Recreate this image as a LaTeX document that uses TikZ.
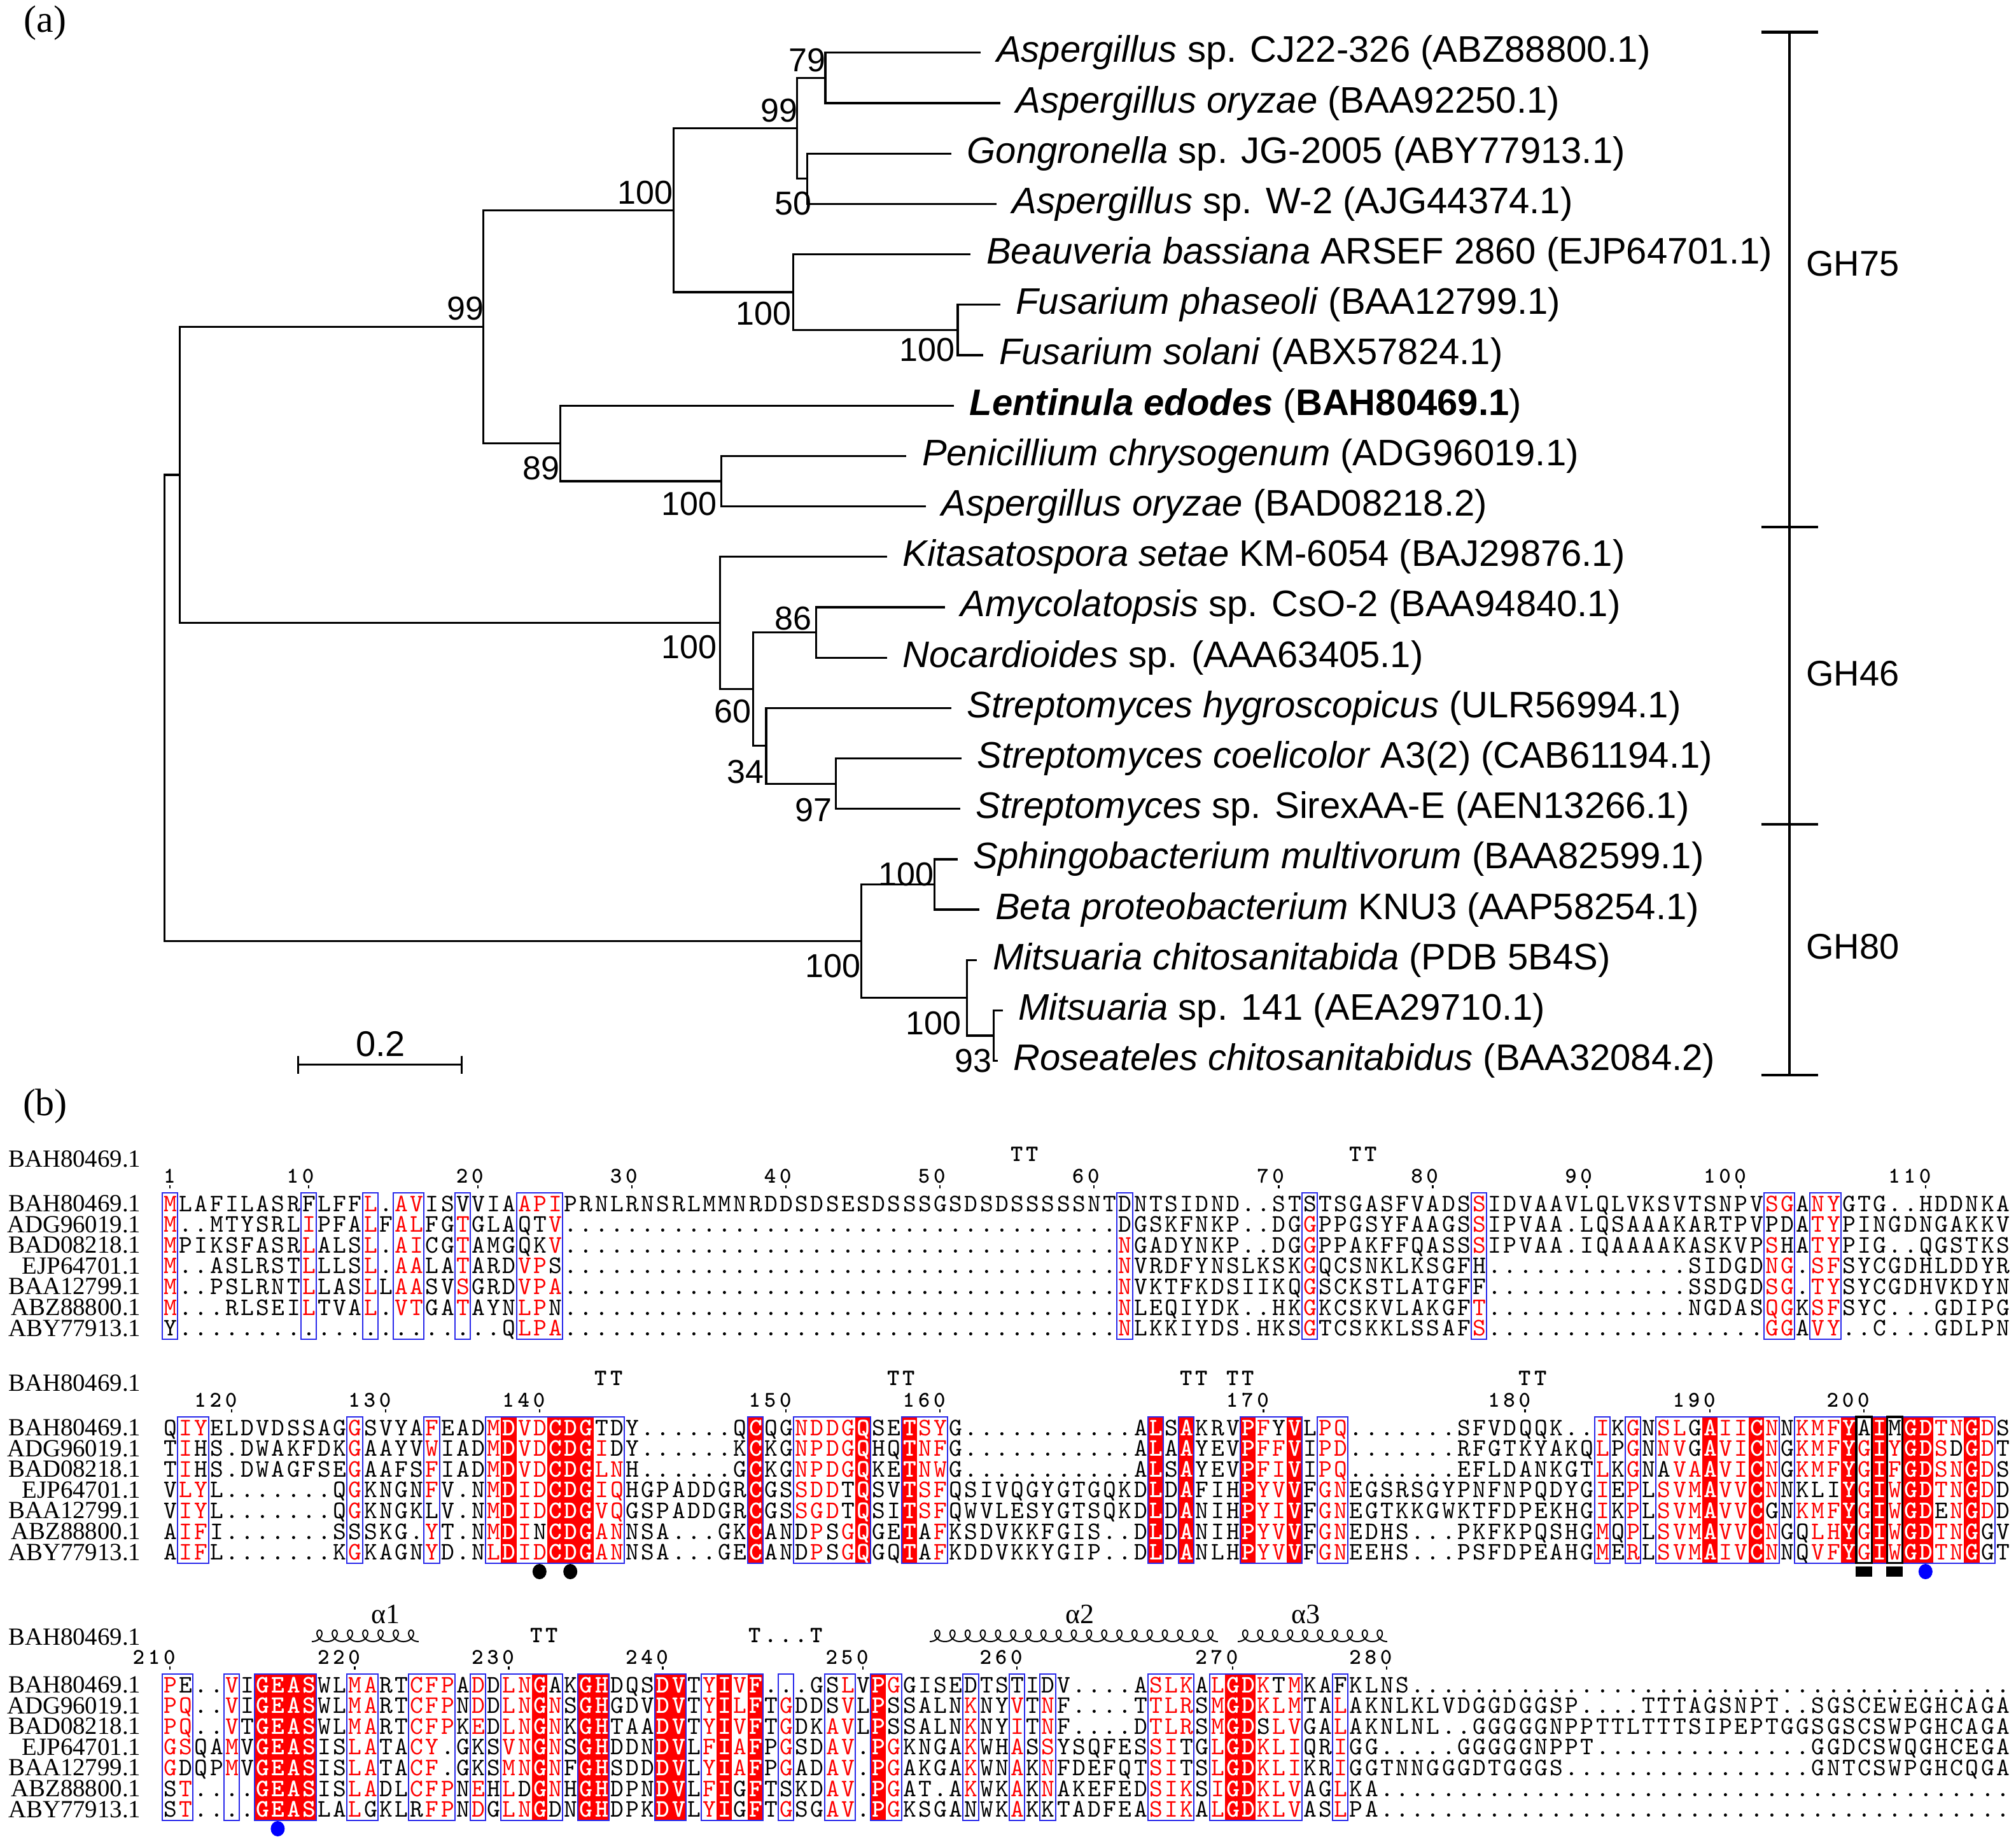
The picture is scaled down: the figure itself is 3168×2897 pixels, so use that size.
\documentclass[tikz,border=0pt]{standalone}
\usepackage{fontspec}
\setmainfont{Liberation Sans}
\newfontfamily\serifnames{Liberation Serif}
\definecolor{espred}{RGB}{255,0,0}
\definecolor{espblue}{RGB}{40,40,235}
\newlength\cellw
\setlength\cellw{6.05pt}
\newcount\colnum
\def\blk{0}
\def\seqrow#1{\colnum=0 \seqloop#1\relax}
\def\seqloop#1{\ifx#1\relax\else\advance\colnum by 1 \seqcell{#1}\expandafter\seqloop\fi}
\def\seqcell#1{\makebox[\cellw][c]{\ifcsname fl@\blk @\the\colnum\endcsname\textcolor{white}{\bfseries #1}\else\ifnum`#1>96 \textcolor{espred}{\uppercase{#1}}\else #1\fi\fi}}
\def\plaincells#1{\plainloop#1\relax}
\def\plainloop#1{\ifx#1\relax\else\makebox[\cellw][c]{#1}\expandafter\plainloop\fi}
\def\fillsB{23,26,27,28,39,46,49,65,67,71,74,101,104,110,112,114,115,118}
\def\fillsC{7,8,9,10,25,28,29,33,34,37,39,47,70,71}
\newcommand\alrow[5]{%
  \node[nm] (nm#1r#2) at (222,{#3+12.5}) {#4};
  \node[sq] (sq#1r#2) at (255,{#3+12}) {\seqrow{#5}};}
\newcommand\colfills[2]{\foreach \fc in #2 {\fill[espred] ({255+(\fc-1)*24.2},{#1-17}) rectangle ({255+\fc*24.2},{#1+212.6});}}
\newcommand\colframes[3]{\foreach \fa/\fb in {#3} {\draw[#1] ({255+(\fa-1)*24.2},{#2-17}) rectangle ({255+\fb*24.2},{#2+212.6});}}
\newcommand\resnums[2]{\foreach \nn/\cc in {#2} {%
  \node[numl] (rn\nn) at ({255+\cc*24.2},{#1-33}) {\expandafter\plaincells\expandafter{\nn}};
  \fill ({267+(\cc-1)*24.2-1.3},{#1-29}) rectangle ++(2.6,5);}}
% helix: x0, end of domain (pi+2*pi*n), loop spacing s, y
\newcommand\helixplot[4]{\draw[line width=0.5pt] plot[domain=3.1416:#2,samples=500,smooth] ({#1+(#3/6.2832)*(\x-3.1416)-9*sin(\x r)},{#4-9*cos(\x r)});}
\begin{document}
\begin{tikzpicture}[x=0.25pt,y=-0.25pt,
  br/.style={line width=0.8pt},
  brk/.style={line width=1.1pt},
  leaf/.style={anchor=west,inner sep=0pt,xshift=6pt,font=\fontsize{14.5}{17}\selectfont},
  bs/.style={inner sep=0pt,font=\fontsize{13}{15}\selectfont},
  gh/.style={inner sep=0pt,font=\fontsize{14}{17}\selectfont},
  panel/.style={inner sep=0pt,font=\serifnames\fontsize{15}{18}\selectfont},
  nm/.style={anchor=base east,inner sep=0pt,font=\serifnames\fontsize{9.7}{11}\selectfont},
  sq/.style={anchor=base west,inner sep=0pt,font=\ttfamily\fontsize{9.9}{11}\selectfont},
  numl/.style={anchor=base east,inner sep=0pt,font=\ttfamily\bfseries\fontsize{8.8}{10}\selectfont},
  ssl/.style={anchor=base,inner sep=0pt,font=\ttfamily\bfseries\fontsize{9.2}{10}\selectfont},
  frm/.style={draw=espblue,line width=0.5pt},
  bfrm/.style={draw=black,line width=0.8pt},
  alab/.style={inner sep=0pt,font=\serifnames\fontsize{11}{13}\selectfont}]
\useasboundingbox (0,0) rectangle (3168,2897);
\fill[white] (0,0) rectangle (3168,2897);
\node[panel] (pa) at (71,36) {(a)};
\node[panel] (pb) at (71,1738) {(b)};
% ---------------- tree (display coordinates) ----------------
\begin{scope}[x=0.50505pt,y=-0.50505pt]
\coordinate (t1) at (763,41);
\coordinate (t2) at (778,80.2);
\coordinate (t3) at (740,119.4);
\coordinate (t4) at (775,158.6);
\coordinate (t5) at (755,197.8);
\coordinate (t6) at (778,237);
\coordinate (t7) at (765,276.2);
\coordinate (t8) at (742,315.4);
\coordinate (t9) at (705,354.6);
\coordinate (t10) at (720,393.8);
\coordinate (t11) at (690,433);
\coordinate (t12) at (735,472.2);
\coordinate (t13) at (690,511.4);
\coordinate (t14) at (740,550.6);
\coordinate (t15) at (748,589.8);
\coordinate (t16) at (747,629);
\coordinate (t17) at (745,668.2);
\coordinate (t18) at (762,707.4);
\coordinate (t19) at (760,746.6);
\coordinate (t20) at (780,785.8);
\coordinate (t21) at (776,825);
\coordinate (nG) at (642,60.6);
\coordinate (nH) at (628,139);
\coordinate (nE) at (620,99.8);
\coordinate (nI) at (745,256.6);
\coordinate (nF) at (617,227.2);
\coordinate (nC) at (524,163.5);
\coordinate (nJ) at (561,374.2);
\coordinate (nD) at (436,344.8);
\coordinate (nB) at (376,254.2);
\coordinate (nM) at (635,491.8);
\coordinate (nN) at (650,609.4);
\coordinate (nO) at (596,580);
\coordinate (nP) at (586,535.9);
\coordinate (nK) at (560,484.5);
\coordinate (nA) at (140,369.3);
\coordinate (nR) at (727,687.8);
\coordinate (nT) at (773,805.4);
\coordinate (nS) at (752,776);
\coordinate (nQ) at (670,731.9);
\coordinate (nRoot) at (128,550.6);
\draw[br] (nG) |- (t1); \draw[br] (nG) |- (t2);
\draw[br] (nH) |- (t3); \draw[br] (nH) |- (t4);
\draw[br] (nE) |- (nG); \draw[br] (nE) |- (nH);
\draw[br] (nI) |- (t6); \draw[br] (nI) |- (t7);
\draw[br] (nF) |- (t5); \draw[br] (nF) |- (nI);
\draw[br] (nC) |- (nE); \draw[br] (nC) |- (nF);
\draw[br] (nJ) |- (t9); \draw[br] (nJ) |- (t10);
\draw[br] (nD) |- (t8); \draw[br] (nD) |- (nJ);
\draw[br] (nB) |- (nC); \draw[br] (nB) |- (nD);
\draw[br] (nM) |- (t12); \draw[br] (nM) |- (t13);
\draw[br] (nN) |- (t15); \draw[br] (nN) |- (t16);
\draw[br] (nO) |- (t14); \draw[br] (nO) |- (nN);
\draw[br] (nP) |- (nM); \draw[br] (nP) |- (nO);
\draw[br] (nK) |- (t11); \draw[br] (nK) |- (nP);
\draw[br] (nA) |- (nB); \draw[br] (nA) |- (nK);
\draw[br] (nR) |- (t17); \draw[br] (nR) |- (t18);
\draw[br] (nT) |- (t20); \draw[br] (nT) |- (t21);
\draw[br] (nS) |- (t19); \draw[br] (nS) |- (nT);
\draw[br] (nQ) |- (nR); \draw[br] (nQ) |- (nS);
\draw[br] (nRoot) |- (nA); \draw[br] (nRoot) |- (nQ);
\node[leaf] (l1) at (t1) {\textit{Aspergillus} sp. CJ22-326 (ABZ88800.1)};
\node[leaf] (l2) at (t2) {\textit{Aspergillus oryzae} (BAA92250.1)};
\node[leaf] (l3) at (t3) {\textit{Gongronella} sp. JG-2005 (ABY77913.1)};
\node[leaf] (l4) at (t4) {\textit{Aspergillus} sp. W-2 (AJG44374.1)};
\node[leaf] (l5) at (t5) {\textit{Beauveria bassiana} ARSEF 2860 (EJP64701.1)};
\node[leaf] (l6) at (t6) {\textit{Fusarium phaseoli} (BAA12799.1)};
\node[leaf] (l7) at (t7) {\textit{Fusarium solani} (ABX57824.1)};
\node[leaf] (l8) at (t8) {\textbf{\textit{Lentinula edodes}} (\textbf{BAH80469.1})};
\node[leaf] (l9) at (t9) {\textit{Penicillium chrysogenum} (ADG96019.1)};
\node[leaf] (l10) at (t10) {\textit{Aspergillus oryzae} (BAD08218.2)};
\node[leaf] (l11) at (t11) {\textit{Kitasatospora setae} KM-6054 (BAJ29876.1)};
\node[leaf] (l12) at (t12) {\textit{Amycolatopsis} sp. CsO-2 (BAA94840.1)};
\node[leaf] (l13) at (t13) {\textit{Nocardioides} sp. (AAA63405.1)};
\node[leaf] (l14) at (t14) {\textit{Streptomyces hygroscopicus} (ULR56994.1)};
\node[leaf] (l15) at (t15) {\textit{Streptomyces coelicolor} A3(2) (CAB61194.1)};
\node[leaf] (l16) at (t16) {\textit{Streptomyces} sp. SirexAA-E (AEN13266.1)};
\node[leaf] (l17) at (t17) {\textit{Sphingobacterium multivorum} (BAA82599.1)};
\node[leaf] (l18) at (t18) {\textit{Beta proteobacterium} KNU3 (AAP58254.1)};
\node[leaf] (l19) at (t19) {\textit{Mitsuaria chitosanitabida} (PDB 5B4S)};
\node[leaf] (l20) at (t20) {\textit{Mitsuaria} sp. 141 (AEA29710.1)};
\node[leaf] (l21) at (t21) {\textit{Roseateles chitosanitabidus} (BAA32084.2)};
\node[bs] (bG) at (628,47) {79};
\node[bs] (bE) at (606,86) {99};
\node[bs] (bC) at (502,150) {100};
\node[bs] (bH) at (617,158) {50};
\node[bs] (bF) at (594,244) {100};
\node[bs] (bI) at (721,272) {100};
\node[bs] (bB) at (362,240) {99};
\node[bs] (bD) at (421,364) {89};
\node[bs] (bJ) at (536,392) {100};
\node[bs] (bK) at (536,503) {100};
\node[bs] (bM) at (617,481) {86};
\node[bs] (bP) at (570,553) {60};
\node[bs] (bO) at (580,600) {34};
\node[bs] (bN) at (633,630) {97};
\node[bs] (bR) at (705,680) {100};
\node[bs] (bQ) at (648,751) {100};
\node[bs] (bS) at (726,796) {100};
\node[bs] (bT) at (757,825) {93};
\coordinate (sbL) at (232,828);
\coordinate (sbR) at (359,828);
\draw[br] (sbL) -- (sbR);
\draw[br] (232,821) -- (232,835);
\draw[br] (359,821) -- (359,835);
\node[gh] (sbl) at (296,812) {0.2};
\coordinate (bt) at (1392,25);
\coordinate (bb) at (1392,836);
\draw[brk] (bt) -- (bb);
\draw[brk] (1370,25) -- (1414,25);
\draw[brk] (1370,410) -- (1414,410);
\draw[brk] (1370,641) -- (1414,641);
\draw[brk] (1370,836) -- (1414,836);
\node[gh] (gh75) at (1441,205) {GH75};
\node[gh] (gh46) at (1441,524) {GH46};
\node[gh] (gh80) at (1441,736) {GH80};
\end{scope}
% ---------------- alignment ----------------
\foreach \fc in \fillsB {\expandafter\xdef\csname fl@2@\fc\endcsname{}}
\foreach \fc in \fillsC {\expandafter\xdef\csname fl@3@\fc\endcsname{}}
% block 1
\def\blk{1}
\colframes{frm}{1891}{1/1,10/10,14/14,16/17,20/20,24/26,63/63,75/75,86/86,105/106,108/109}
\node[nm] (h1) at (222,1833.5) {BAH80469.1};
\resnums{1891}{1/1,10/10,20/21,30/31,40/41,50/51,60/61,70/73,80/83,90/93,100/103,110/115}
\node[ssl] (tt1a) at ({267+55.5*24.2},1824) {\plaincells{TT}};
\node[ssl] (tt1b) at ({267+77.5*24.2},1824) {\plaincells{TT}};
\alrow{1}{1}{1891}{BAH80469.1}{mLAFILASRF LFFl.avISV VIAapiPRNL RNSRLMMNRD DSDSESDSSS GSDSDSSSSS NTDNTSIDND ..STSTSGAS FVADSsIDVA AVLQLVKSVT SNPVsgAnyG TG..HDDNKA}
\alrow{1}{2}{1923.6}{ADG96019.1}{m..MTYSRLi PFAlFalFGt GLAQTv.... .......... .......... .......... ..DGSKFNKP ..DGgPPGSY FAAGSsIPVA A.LQSAAAKA RTPVPDAtyP INGDNGAKKV}
\alrow{1}{3}{1956.2}{BAD08218.1}{mPIKSFASRl ALSl.aiCGt AMGQKv.... .......... .......... .......... ..nGADYNKP ..DGgPPAKF FQASSsIPVA A.IQAAAAKA SKVPsHAtyP IG..QGSTKS}
\alrow{1}{4}{1988.8}{EJP64701.1}{m..ASLRSTl LLSl.aaLAt ARDvpS.... .......... .......... .......... ..nVRDFYNS LKSKgQCSNK LKSGFH.... .........S IDGDng.sfS YCGDHLDDYR}
\alrow{1}{5}{2021.4}{BAA12799.1}{m..PSLRNTl LASlLaaSVs GRDvpa.... .......... .......... .......... ..nVKTFKDS IIKQgSCKST LATGFF.... .........S SDGDsg.tyS YCGDHVKDYN}
\alrow{1}{6}{2054}{ABZ88800.1}{m...RLSEIl TVAl.vtGAt AYNlpN.... .......... .......... .......... ..nLEQIYDK ..HKgKCSKV LAKGFt.... .........N GDASqgKsfS YC...GDIPG}
\alrow{1}{7}{2086.6}{ABY77913.1}{Y......... .......... ..Qlpa.... .......... .......... .......... ..nLKKIYDS .HKSgTCSKK LSSAFs.... .......... ....ggAvy. .C...GDLPN}
% block 2
\def\blk{2}
\colfills{2243}{\fillsB}
\colframes{frm}{2243}{2/3,13/13,18/18,22/30,39/39,42/46,49/51,65/65,67/67,71/74,76/77,94/94,96/96,98/105,107/119}
\colframes{bfrm}{2243}{111/111,113/113}
\node[nm] (h2) at (222,2185.5) {BAH80469.1};
\resnums{2243}{120/5,130/15,140/25,150/41,160/51,170/72,180/89,190/101,200/111}
\node[ssl] (tt2a) at ({267+28.5*24.2},2176) {\plaincells{TT}};
\node[ssl] (tt2b) at ({267+47.5*24.2},2176) {\plaincells{TT}};
\node[ssl] (tt2c) at ({267+66.5*24.2},2176) {\plaincells{TT}};
\node[ssl] (tt2d) at ({267+69.5*24.2},2176) {\plaincells{TT}};
\node[ssl] (tt2e) at ({267+88.5*24.2},2176) {\plaincells{TT}};
\alrow{2}{1}{2243}{BAH80469.1}{QiyELDVDSS AGgSVYAfEA DmDvdCDGTD Y......QCQ GnddgQSETs yG........ ...ALSAKRV PfYVLpq... ....SFVDQQ K..iKgNslG AiiCnNkmfY AIMGDtnGdS}
\alrow{2}{2}{2275.6}{ADG96019.1}{TiHS.DWAKF DKgAAYVwIA DmDvdCDGiD Y......KCK GnpdgQHQTn fG........ ...ALAAYEV PffVIpd... ....RFGTKY AKQlPgNnvG AviCnGkmfY gIyGDsDGdT}
\alrow{2}{3}{2308.2}{BAD08218.1}{TiHS.DWAGF SEgAAFSfIA DmDvdCDGln H......GCK GnpdgQKETn wG........ ...ALSAYEV PfiVIpq... ....EFLDAN KGTlKgNAva AviCnGkmfY gIfGDsnGdS}
\alrow{2}{4}{2340.8}{EJP64701.1}{VlyL...... .QgKNGNfV. NmDidCDGiq HGPADDGRCG SsddTQSVTs fQSIVQGYGT GQKDLDAFIH PyvVFgnEGS RSGYPNFNPQ DYGiEpLsvm AvvCnNKLIY gIwGDtnGdD}
\alrow{2}{5}{2373.4}{BAA12799.1}{ViyL...... .QgKNGKLV. NmDidCDGvq GSPADDGRCG SsgdTQSITs fQWVLESYGT SQKDLDANIH PyiVFgnEGT KKGWKTFDPE KHGiKpLsvm AvvCGNkmfY gIwGDEnGdD}
\alrow{2}{6}{2406}{ABZ88800.1}{AifI...... .SSSKG.yT. NmDiNCDGan NSA...GKCA NDpSgQGETA fKSDVKKFGI S..DLDANIH PyvVFgnEDH S...PKFKPQ SHGmQpLsvm AvvCnGQlhY gIwGDtnGGV}
\alrow{2}{7}{2438.6}{ABY77913.1}{AifL...... .KgKAGNyD. NlDidCDGan NSA...GECA NDpSgQGQTA fKDDVKKYGI P..DLDANLH PyvVFgnEEH S...PSFDPE AHGmErLsvm AivCnNQvfY gIwGDtnGGT}
\fill (847.8,2469) ellipse (11 and 12);
\fill (896.2,2469) ellipse (11 and 12);
\fill (2916,2461) rectangle (2942,2477);
\fill (2964.4,2461) rectangle (2990.4,2477);
\fill[blue] (3025.8,2469) ellipse (11 and 12);
% block 3
\def\blk{3}
\colfills{2647}{\fillsC}
\colframes{frm}{2647}{1/2,5/5,7/10,13/14,17/19,21/21,23/26,28/29,33/34,36/39,41/41,44/45,47/48,53/53,56/56,58/58,65/67,69/74,77/77}
\node[nm] (h3) at (222,2584.5) {BAH80469.1};
\resnums{2647}{210/1,220/13,230/23,240/33,250/46,260/56,270/70,280/80}
\node[ssl] (tt3a) at ({267+24.3*24.2},2580) {\plaincells{TT}};
\node[ssl] (tt3b) at ({267+40*24.2},2580) {\plaincells{T...T}};
\helixplot{490}{47.124}{24}{2570}
\helixplot{1461}{122.522}{23.84}{2570}
\helixplot{1945}{65.973}{23.5}{2570}
\node[alab] (al1) at (606,2536) {α1};
\node[alab] (al2) at (1697,2536) {α2};
\node[alab] (al3) at (2052,2536) {α3};
\alrow{3}{1}{2647}{BAH80469.1}{pE..vIGEAS WLmaRTcfpA dDlnGAKGHD QSDVTyIvF. ..GSlVPgGI SEDTSTIDV. ...AslkAlG DkTmKAFKLN S......... .......... .......... ..........}
\alrow{3}{2}{2679.6}{ADG96019.1}{pq..vIGEAS WLmaRTcfpN dDlnGnSGHG DVDVTyIlFT gDDSvLPSSA LNkNYvTnF. ...TtlrSmG DklmTAlAKN LKLVDGGDGG SP....TTTA GSNPT..SGS CEWEGHCAGA}
\alrow{3}{3}{2712.2}{BAD08218.1}{pq..vTGEAS WLmaRTcfpK eDlnGnKGHT AADVTyIvFT gDKavLPSSA LNkNYiTnF. ...DtlrSmG DSlvGAlAKN LNL..GGGGG NPPTTLTTTS IPEPTGGSGS CSWPGHCAGA}
\alrow{3}{4}{2744.8}{EJP64701.1}{gsQAmVGEAS ISlaTAcy.G KSvnGnSGHD DNDVLfIaFP gSDav.PgKN GAkWHaSsYS QFESsiTGlG DkliQRiGG. ....GGGGGN PPT....... .......GGD CSWQGHCEGA}
\alrow{3}{5}{2777.4}{BAA12799.1}{gDQPmVGEAS ISlaTAcf.G KSmnGnFGHS DDDVLyIaFP gADav.PgAK GAkWNaKnFD EFQTsiTSlG DkliKRiGGT NNGGGDTGGG S......... .......GNT CSWPGHCQGA}
\alrow{3}{6}{2810}{ABZ88800.1}{St....GEAS ISlaDLcfpN eHlDGnHGHD PNDVLfIGFT SKDav.PgAT .AkWKaKnAK EFEDsikSiG DklvAGlKA. .......... .......... .......... ..........}
\alrow{3}{7}{2842.6}{ABY77913.1}{St....GEAS LAlGKLRfpN dGlnGDNGHD PKDVLyIGFT gSGav.PgKS GANWKaKKTA DFEAsikAlG DklvASlPA. .......... .......... .......... ..........}
\fill[blue] (436.4,2873) ellipse (11 and 12);
\end{tikzpicture}
\end{document}
